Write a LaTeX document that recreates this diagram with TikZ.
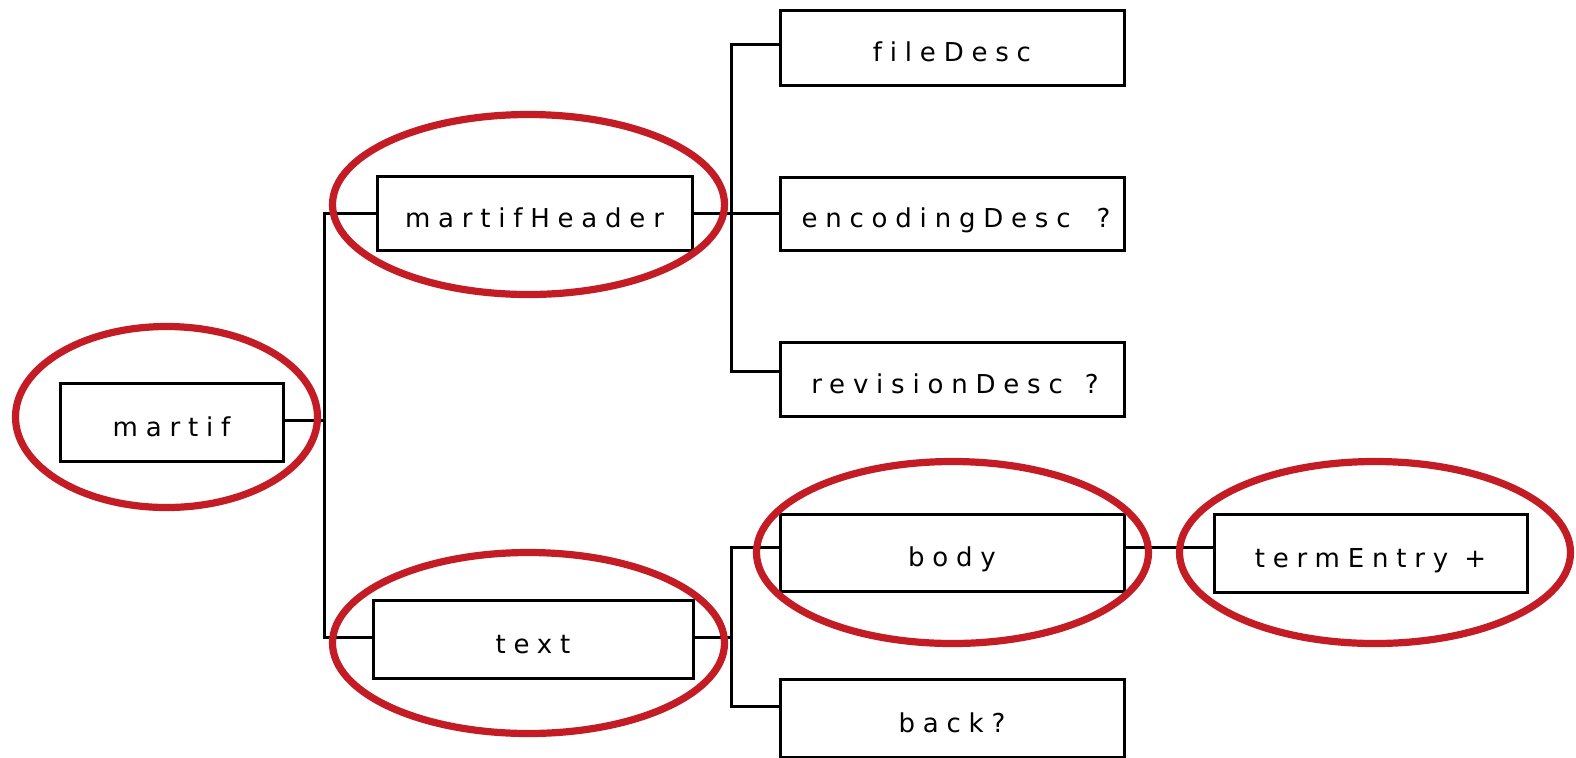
\documentclass[tikz,border=0pt]{standalone}
\usepackage{fontspec}
\setmainfont{DejaVu Sans}[LetterSpace=30,Ligatures=NoCommon]
\usetikzlibrary{shapes.geometric}
\definecolor{ovalred}{RGB}{196,28,36}
\tikzset{
  box/.style={draw=black, line width=1.5pt, rectangle, inner sep=0pt, font=\fontsize{13pt}{15pt}\selectfont, text height=14pt, text depth=0pt},
  conn/.style={draw=black, line width=1.5pt},
  oval/.style={draw=ovalred, line width=3.6pt, ellipse, inner sep=0pt}
}
\begin{document}
\begin{tikzpicture}[x=0.5pt,y=-0.5pt]
\useasboundingbox (0,0) rectangle (1576,757);
\clip (0,0) rectangle (1576,757);
\fill[white] (0,0) rectangle (1576,757);
% boxes
\node[box, minimum width=111.5pt, minimum height=39pt] (martif) at (171.5,422) {martif};
\node[box, minimum width=157.5pt, minimum height=37pt] (martifHeader) at (534.5,213) {martifHeader};
\node[box, minimum width=160pt, minimum height=39pt] (text) at (533,639) {text};
\node[box, minimum width=172pt, minimum height=37.5pt] (fileDesc) at (952,47.5) {fileDesc};
\node[box, minimum width=172pt, minimum height=36.5pt] (encodingDesc) at (952,213.5) {\hspace{4pt}encodingDesc\hspace{5pt} ?};
\node[box, minimum width=172pt, minimum height=37pt] (revisionDesc) at (952,379) {\hspace{3pt}revisionDesc\hspace{3pt} ?};
\node[box, minimum width=172pt, minimum height=38.5pt] (body) at (952,552.5) {body};
\node[box, minimum width=172pt, minimum height=39pt] (back) at (952,718.5) {back?};
\node[box, minimum width=156.5pt, minimum height=39pt] (termEntry) at (1370.5,553) {termEntry +};
% junctions
\coordinate (j1) at (324,420);
\coordinate (j2) at (731,213);
\coordinate (j3) at (731,637);
\coordinate (b1) at ([yshift=2.75pt]body.east);
% connectors
\draw[conn] ([yshift=1pt]martif.east) -- (j1);
\draw[conn] (martifHeader.west) -| (j1) |- ([yshift=1pt]text.west);
\draw[conn] (martifHeader.east) -- (j2) -- (j2 -| encodingDesc.west);
\draw[conn] ([yshift=1.75pt]fileDesc.west) -| (j2) |- ([yshift=4pt]revisionDesc.west);
\draw[conn] ([yshift=1pt]text.east) -- (j3);
\draw[conn] ([yshift=2.75pt]body.west) -| (j3) |- ([yshift=6.25pt]back.west);
\draw[conn] (b1) -- (b1 -| termEntry.west);
% ovals
\node[oval, minimum width=151pt, minimum height=90.5pt] (ovMartif) at (166.5,417) {};
\node[oval, minimum width=196pt, minimum height=90pt] (ovHeader) at (528.5,204.5) {};
\node[oval, minimum width=196pt, minimum height=90.5pt] (ovText) at (528.5,643) {};
\node[oval, minimum width=196pt, minimum height=91pt] (ovBody) at (952.5,552.5) {};
\node[oval, minimum width=195.5pt, minimum height=91pt] (ovTerm) at (1375,552.5) {};
\end{tikzpicture}
\end{document}
